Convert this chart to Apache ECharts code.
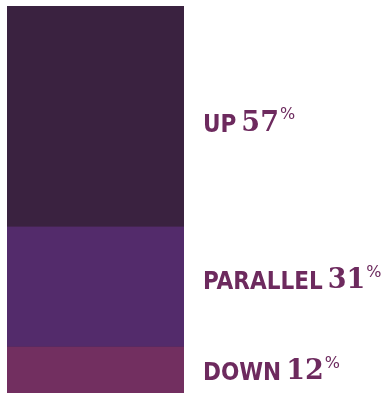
<!DOCTYPE html>
<html>
<head>
<meta charset="utf-8">
<script src="https://cdn.jsdelivr.net/npm/echarts@6/dist/echarts.min.js"></script>
<style>
  html, body { margin: 0; padding: 0; background: #fff; }
  #chart-container { width: 386px; height: 394px; }
</style>
</head>
<body>
<div id="chart-container"></div>
<script>
const categories = ["all"];
const seriesNames = ["DOWN", "PARALLEL", "UP"];
const seriesValues = [12, 31, 57];
const seriesColors = ["#722f60", "#532b6b", "#3a2240"];
// small nudges so the labels sit where the original put them
const labelNudge = [1, -7, 6];

(() => {
  var dom = document.getElementById("chart-container");
  var chart = echarts.init(dom, null, { renderer: "canvas" });

  const labelColor = "#6d2a5e";
  const option = {
    animation: false,
    // purple behind the bar hides the white seams between stacked pieces
    grid: {
      left: 7, right: 202, top: 6, bottom: 1,
      show: true, backgroundColor: "#4a2656", borderWidth: 0,
    },
    xAxis: {
      type: "category",
      data: categories,
      show: false,
    },
    yAxis: {
      type: "value",
      min: 0,
      max: 100,
      show: false,
    },
    series: seriesNames.map((name, i) => ({
      name: name,
      type: "bar",
      stack: "total",
      barWidth: "100%",
      data: [seriesValues[i]],
      itemStyle: { color: seriesColors[i] },
      label: {
        show: true,
        position: "right",
        distance: 19,
        offset: [0, labelNudge[i]],
        formatter: "{t|" + name + "}{n|" + seriesValues[i] + "}{p|%}",
        rich: {
          t: {
            fontFamily: "DejaVu Sans Condensed",
            fontWeight: "bold",
            fontSize: 24,
            color: labelColor,
            verticalAlign: "bottom",
            lineHeight: 30,
          },
          n: {
            fontFamily: "DejaVu Serif",
            fontWeight: "bold",
            fontSize: 27,
            color: labelColor,
            verticalAlign: "bottom",
            lineHeight: 30,
            padding: [0, 1, 0, 5],
          },
          p: {
            fontFamily: "DejaVu Sans",
            fontSize: 16,
            color: labelColor,
            verticalAlign: "top",
            lineHeight: 16,
          },
        },
      },
    })),
  };
  chart.setOption(option);
  window.addEventListener("resize", chart.resize);
})();
</script>
</body>
</html>
